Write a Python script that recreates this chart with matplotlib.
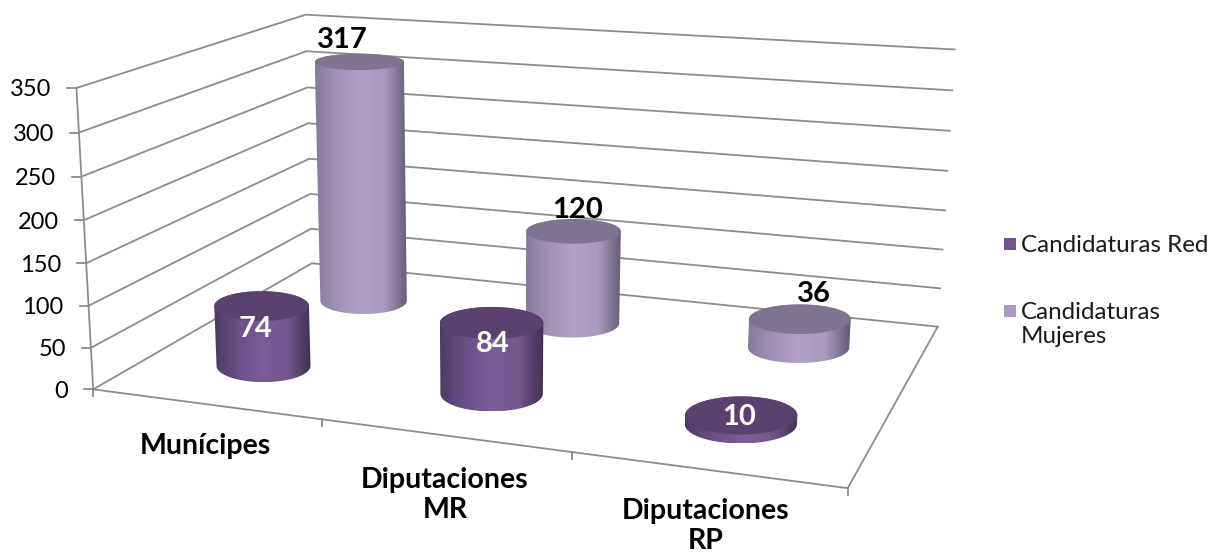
import numpy as np
import matplotlib
matplotlib.use('Agg')
import matplotlib.pyplot as plt
from matplotlib.colors import LinearSegmentedColormap
from matplotlib.patches import Polygon, Ellipse, Rectangle

categories = ['Munícipes', 'Diputaciones\nMR', 'Diputaciones\nRP']
series_names = ['Candidaturas Red', 'Candidaturas\nMujeres']
red_values = [74, 84, 10]
mujeres_values = [317, 120, 36]
y_ticks = [0, 50, 100, 150, 200, 250, 300, 350]

plt.rcParams['font.family'] = ['Lato', 'DejaVu Sans']

# known corners of the 3D box, (category, depth, value) -> pixel, used to fit a camera
box_3d = [(0, 0, 0), (0, 0, 350), (0, 2, 0), (0, 2, 350), (3, 2, 0), (3, 2, 350),
          (3, 0, 0), (1, 0, 0), (2, 0, 0)]
box_px = [(93, 388), (77, 87), (312, 264), (305, 15), (938, 325), (955, 50),
          (847, 488), (322, 420), (572, 454)]


def fit_camera(pts3d, pts2d):
    rows, rhs = [], []
    for (x, z, y), (u, v) in zip(pts3d, pts2d):
        rows.append([x, z, y, 1, 0, 0, 0, 0, -u * x, -u * z, -u * y])
        rows.append([0, 0, 0, 0, x, z, y, 1, -v * x, -v * z, -v * y])
        rhs += [u, v]
    h = np.linalg.lstsq(np.array(rows, float), np.array(rhs, float), rcond=None)[0]
    return np.append(h, 1).reshape(3, 4)


CAM = fit_camera(box_3d, box_px)


def proj(x, z, y):
    p = CAM @ np.array([x, z, y, 1.0])
    return p[0] / p[2], p[1] / p[2]


GRID = '#8c8c8c'
RAD_X = 0.215
RAD_Z = 0.225

red_cmap = LinearSegmentedColormap.from_list('r', ['#4e3b66', '#6a4f88', '#7a5c96', '#75588f', '#3f3054'])
muj_cmap = LinearSegmentedColormap.from_list('m', ['#857a99', '#a294b6', '#b1a1c6', '#a99bbd', '#635a74'])
top_colors = {'r': '#59426d', 'm': '#7e748f'}


def ellipse_size(x, z, y):
    rx = abs(proj(x + RAD_X, z, y)[0] - proj(x - RAD_X, z, y)[0]) / 2
    ry = abs(proj(x, z + RAD_Z, y)[1] - proj(x, z - RAD_Z, y)[1]) / 2
    return rx, ry


def cylinder(ax, x, z, value, cmap, top_color, zorder):
    bx, by = proj(x, z, 0)
    tx, ty = proj(x, z, value)
    brx, bry = ellipse_size(x, z, 0)
    trx, try_ = ellipse_size(x, z, value)

    t = np.linspace(np.pi, 2 * np.pi, 60)
    upper = np.column_stack([tx + trx * np.cos(t), ty + try_ * np.sin(t)])
    t = np.linspace(0, np.pi, 60)
    lower = np.column_stack([bx + brx * np.cos(t), by + bry * np.sin(t)])
    outline = Polygon(np.vstack([upper, lower]), closed=True, facecolor='none',
                      edgecolor='none', transform=ax.transData)
    ax.add_patch(outline)

    x0 = min(tx - trx, bx - brx)
    x1 = max(tx + trx, bx + brx)
    y0 = ty - try_
    y1 = by + bry
    grad = np.linspace(0, 1, 256).reshape(1, -1)
    im = ax.imshow(grad, cmap=cmap, extent=(x0, x1, y1, y0), aspect='auto', zorder=zorder)
    im.set_clip_path(outline)

    ax.add_patch(Ellipse((tx, ty), 2 * trx, 2 * try_, facecolor=top_color,
                         edgecolor='none', zorder=zorder + 0.1))
    return tx, ty


fig = plt.figure(figsize=(12.12, 5.54), dpi=100)
ax = fig.add_axes([0, 0, 1, 1])

# walls
for v in y_ticks:
    a = proj(0, 0, v)
    b = proj(0, 2, v)
    c = proj(3, 2, v)
    ax.plot([a[0], b[0], c[0]], [a[1], b[1], c[1]], color=GRID, lw=1.3, zorder=1)
    ax.plot([a[0] - 9, a[0]], [a[1], a[1]], color=GRID, lw=1.3, zorder=1)
    ax.text(a[0] - 25, a[1] + 2, str(v), ha='right', va='center', fontsize=17, color='black')

# axis edges
a, b = proj(0, 0, 0), proj(0, 0, 350)
ax.plot([a[0], b[0]], [a[1], b[1]], color=GRID, lw=1.3, zorder=1)
corners = [proj(0, 0, 0), proj(3, 0, 0), proj(3, 2, 0)]
ax.plot([p[0] for p in corners], [p[1] for p in corners], color=GRID, lw=1.3, zorder=1)
for i in range(4):
    p = proj(i, 0, 0)
    ax.plot([p[0], p[0]], [p[1], p[1] + 7], color=GRID, lw=1.3, zorder=1)

# back row first, then front row on top
label_off_m = [(-17, -22), (4, -21), (14, -25)]
label_off_r = [(-6, 23), (1, 21), (-2, 2)]
for i, v in enumerate(mujeres_values):
    tx, ty = cylinder(ax, i + 0.5, 1.5, v, muj_cmap, top_colors['m'], 2 + i * 0.01)
    dx, dy = label_off_m[i]
    ax.text(tx + dx, ty + dy, str(v), ha='center', va='center', fontsize=21,
            fontweight='bold', color='black', zorder=6)
for i, v in enumerate(red_values):
    tx, ty = cylinder(ax, i + 0.5, 0.5, v, red_cmap, top_colors['r'], 4 + i * 0.01)
    dx, dy = label_off_r[i]
    ax.text(tx + dx, ty + dy, str(v), ha='center', va='center', fontsize=21,
            fontweight='bold', color='white', zorder=6)

# category labels
cat_pos = [(205, 446), (445, 495), (706, 526)]
for name, (cx, cy) in zip(categories, cat_pos):
    ax.text(cx, cy, name, ha='center', va='center', fontsize=20.5, fontweight='bold',
            color='black', linespacing=1.2)

# legend
leg_colors = ['#715490', '#a99cc0']
leg_y = [244, 311]
for name, col, ly in zip(series_names, leg_colors, leg_y):
    ax.add_patch(Rectangle((1004, ly - 6), 12, 12, facecolor=col, edgecolor='none'))
    ax.text(1021, ly - 9, name, ha='left', va='top', fontsize=17.4, color='#1a1a1a', linespacing=1.18)

ax.set_xlim(0, 1212)
ax.set_ylim(554, 0)
ax.axis('off')
fig.savefig('out.png', dpi=100)
